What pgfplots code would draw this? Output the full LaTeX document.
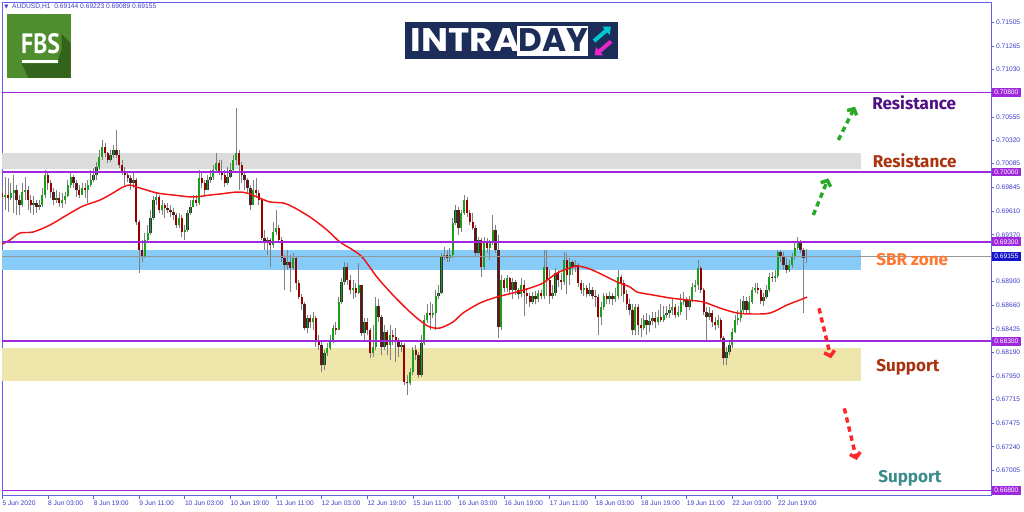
\documentclass[border=0pt]{standalone}
\usepackage{pgfplots}
\pgfplotsset{compat=1.18}
\usepackage{pgfplotstable}
\usepackage{fontspec}
\setmainfont{Liberation Sans}
\newfontfamily\fira{Fira Sans}
\newfontfamily\pop{Poppins}
\newfontfamily\pts{PT Sans}
\newfontfamily\dvs{DejaVu Sans}
\usetikzlibrary{arrows.meta}

\definecolor{framec}{RGB}{100,95,235}
\definecolor{ticktxt}{RGB}{60,60,200}
\definecolor{lvl}{RGB}{160,40,220}
\definecolor{bidc}{RGB}{20,20,200}
\definecolor{bull}{RGB}{25,160,25}
\definecolor{bear}{RGB}{150,0,0}
\definecolor{edge}{RGB}{50,50,50}
\definecolor{wick}{RGB}{128,128,128}
\definecolor{mac}{RGB}{240,20,20}
\definecolor{zgrey}{RGB}{220,220,220}
\definecolor{zblue}{RGB}{135,204,248}
\definecolor{zyel}{RGB}{238,230,170}
\definecolor{fbsg}{RGB}{78,142,46}
\definecolor{fbsd}{RGB}{52,100,28}
\definecolor{navy}{RGB}{28,45,90}
\definecolor{cyanarr}{RGB}{0,200,210}
\definecolor{magarr}{RGB}{230,40,200}
\definecolor{resA}{RGB}{80,15,130}
\definecolor{resB}{RGB}{170,50,15}
\definecolor{sbr}{RGB}{255,120,50}
\definecolor{teal2}{RGB}{60,140,140}
\definecolor{garr}{RGB}{40,170,40}
\definecolor{rarr}{RGB}{250,40,40}
\definecolor{bidline}{RGB}{150,150,150}

\pgfplotsset{
  candlebar/.style={only marks, mark=*, mark size=0pt, mark options={draw=none, fill=none}, forget plot},
}

\pgfplotstableread{
i o h l c
0 0.6979 0.6985 0.6972 0.6975
1 0.6975 0.6995 0.6962 0.6977
2 0.6977 0.6994 0.6960 0.6974
3 0.6974 0.6989 0.6972 0.6979
4 0.6979 0.6997 0.6959 0.6982
5 0.6982 0.6987 0.6957 0.6972
6 0.6972 0.6977 0.6957 0.6967
7 0.6967 0.6989 0.6965 0.6980
8 0.6980 0.6995 0.6972 0.6982
9 0.6982 0.6986 0.6962 0.6972
10 0.6972 0.6977 0.6959 0.6967
11 0.6967 0.6976 0.6957 0.6969
12 0.6969 0.6972 0.6959 0.6965
13 0.6965 0.6972 0.6962 0.6967
14 0.6967 0.6984 0.6965 0.6977
15 0.6977 0.7002 0.6974 0.6997
16 0.6997 0.7000 0.6982 0.6989
17 0.6989 0.6992 0.6974 0.6980
18 0.6980 0.6984 0.6967 0.6972
19 0.6972 0.6982 0.6969 0.6974
20 0.6974 0.6980 0.6965 0.6969
21 0.6969 0.6979 0.6964 0.6972
22 0.6972 0.6980 0.6968 0.6976
23 0.6976 0.6992 0.6975 0.6987
24 0.6987 0.7000 0.6984 0.6995
25 0.6995 0.6997 0.6984 0.6989
26 0.6989 0.6992 0.6975 0.6982
27 0.6982 0.6987 0.6974 0.6977
28 0.6977 0.6989 0.6977 0.6984
29 0.6984 0.6989 0.6974 0.6982
30 0.6982 0.6992 0.6969 0.6987
31 0.6987 0.7002 0.6985 0.6992
32 0.6992 0.7004 0.6990 0.6997
33 0.6997 0.7010 0.6992 0.7005
34 0.7005 0.7022 0.7002 0.7015
35 0.7015 0.7032 0.7012 0.7025
36 0.7025 0.7029 0.7015 0.7019
37 0.7019 0.7020 0.7009 0.7012
38 0.7012 0.7022 0.7010 0.7017
39 0.7017 0.7027 0.7014 0.7022
40 0.7022 0.7042 0.7014 0.7017
41 0.7017 0.7022 0.7004 0.7007
42 0.7007 0.7012 0.6997 0.7000
43 0.7000 0.7005 0.6987 0.6997
44 0.6997 0.7000 0.6990 0.6994
45 0.6994 0.6997 0.6982 0.6989
46 0.6989 0.7000 0.6984 0.6992
47 0.6992 0.6994 0.6947 0.6950
48 0.6950 0.6952 0.6899 0.6922
49 0.6922 0.6932 0.6910 0.6915
50 0.6915 0.6939 0.6914 0.6932
51 0.6932 0.6947 0.6929 0.6939
52 0.6939 0.6962 0.6937 0.6954
53 0.6954 0.6976 0.6952 0.6972
54 0.6972 0.6979 0.6967 0.6975
55 0.6975 0.6977 0.6959 0.6962
56 0.6962 0.6972 0.6957 0.6967
57 0.6967 0.6969 0.6954 0.6964
58 0.6964 0.6969 0.6959 0.6962
59 0.6962 0.6967 0.6955 0.6960
60 0.6960 0.6964 0.6952 0.6957
61 0.6957 0.6959 0.6944 0.6947
62 0.6947 0.6959 0.6944 0.6954
63 0.6954 0.6957 0.6935 0.6940
64 0.6940 0.6947 0.6932 0.6942
65 0.6942 0.6962 0.6940 0.6959
66 0.6959 0.6972 0.6957 0.6965
67 0.6965 0.6977 0.6965 0.6972
68 0.6972 0.6977 0.6966 0.6969
69 0.6969 0.7002 0.6967 0.6994
70 0.6994 0.7000 0.6984 0.6989
71 0.6989 0.6992 0.6977 0.6982
72 0.6982 0.6997 0.6982 0.6992
73 0.6992 0.7002 0.6989 0.6995
74 0.6995 0.7007 0.6992 0.7002
75 0.7002 0.7019 0.7000 0.7009
76 0.7009 0.7012 0.6997 0.7000
77 0.7000 0.7012 0.6992 0.6997
78 0.6997 0.7002 0.6985 0.6989
79 0.6989 0.7005 0.6987 0.6995
80 0.6995 0.7009 0.6994 0.7002
81 0.7002 0.7017 0.7000 0.7012
82 0.7012 0.7064 0.7007 0.7019
83 0.7019 0.7022 0.6982 0.7007
84 0.7007 0.7010 0.6989 0.6997
85 0.6997 0.7000 0.6982 0.6992
86 0.6992 0.6994 0.6980 0.6984
87 0.6984 0.6987 0.6962 0.6967
88 0.6967 0.6992 0.6967 0.6982
89 0.6982 0.6994 0.6975 0.6979
90 0.6979 0.6982 0.6967 0.6972
91 0.6972 0.6974 0.6932 0.6934
92 0.6934 0.6942 0.6922 0.6929
93 0.6929 0.6935 0.6917 0.6932
94 0.6932 0.6934 0.6905 0.6927
95 0.6927 0.6950 0.6924 0.6940
96 0.6940 0.6962 0.6937 0.6944
97 0.6944 0.6947 0.6929 0.6932
98 0.6932 0.6935 0.6910 0.6914
99 0.6914 0.6917 0.6882 0.6907
100 0.6907 0.6922 0.6902 0.6910
101 0.6910 0.6917 0.6880 0.6904
102 0.6904 0.6919 0.6902 0.6914
103 0.6914 0.6916 0.6882 0.6889
104 0.6889 0.6892 0.6872 0.6874
105 0.6874 0.6877 0.6861 0.6867
106 0.6867 0.6869 0.6841 0.6843
107 0.6843 0.6856 0.6838 0.6853
108 0.6853 0.6856 0.6843 0.6849
109 0.6849 0.6859 0.6841 0.6853
110 0.6853 0.6855 0.6824 0.6829
111 0.6829 0.6836 0.6821 0.6826
112 0.6826 0.6831 0.6799 0.6806
113 0.6806 0.6821 0.6801 0.6818
114 0.6818 0.6828 0.6815 0.6823
115 0.6823 0.6836 0.6821 0.6829
116 0.6829 0.6846 0.6828 0.6843
117 0.6843 0.6849 0.6836 0.6841
118 0.6841 0.6874 0.6841 0.6869
119 0.6869 0.6894 0.6867 0.6890
120 0.6890 0.6910 0.6887 0.6905
121 0.6905 0.6909 0.6887 0.6892
122 0.6892 0.6897 0.6877 0.6882
123 0.6882 0.6892 0.6872 0.6884
124 0.6884 0.6889 0.6874 0.6879
125 0.6879 0.6909 0.6877 0.6887
126 0.6887 0.6887 0.6835 0.6838
127 0.6838 0.6853 0.6831 0.6849
128 0.6849 0.6853 0.6836 0.6841
129 0.6841 0.6843 0.6813 0.6818
130 0.6818 0.6846 0.6814 0.6824
131 0.6824 0.6874 0.6821 0.6865
132 0.6865 0.6872 0.6849 0.6854
133 0.6854 0.6856 0.6816 0.6824
134 0.6824 0.6846 0.6821 0.6839
135 0.6839 0.6841 0.6816 0.6826
136 0.6826 0.6846 0.6811 0.6836
137 0.6836 0.6841 0.6826 0.6834
138 0.6834 0.6843 0.6809 0.6829
139 0.6829 0.6833 0.6814 0.6824
140 0.6824 0.6831 0.6819 0.6826
141 0.6826 0.6828 0.6786 0.6789
142 0.6789 0.6796 0.6776 0.6788
143 0.6788 0.6803 0.6786 0.6799
144 0.6799 0.6824 0.6796 0.6821
145 0.6821 0.6826 0.6811 0.6816
146 0.6816 0.6819 0.6793 0.6796
147 0.6796 0.6836 0.6794 0.6828
148 0.6828 0.6856 0.6826 0.6851
149 0.6851 0.6867 0.6848 0.6858
150 0.6858 0.6869 0.6841 0.6856
151 0.6856 0.6867 0.6853 0.6858
152 0.6858 0.6882 0.6841 0.6875
153 0.6875 0.6887 0.6872 0.6879
154 0.6879 0.6919 0.6877 0.6915
155 0.6915 0.6925 0.6912 0.6917
156 0.6917 0.6922 0.6910 0.6914
157 0.6914 0.6924 0.6910 0.6917
158 0.6917 0.6954 0.6914 0.6949
159 0.6949 0.6967 0.6947 0.6962
160 0.6962 0.6965 0.6937 0.6944
161 0.6944 0.6962 0.6940 0.6959
162 0.6959 0.6977 0.6957 0.6972
163 0.6972 0.6975 0.6955 0.6959
164 0.6959 0.6962 0.6947 0.6950
165 0.6950 0.6959 0.6942 0.6944
166 0.6944 0.6947 0.6915 0.6919
167 0.6919 0.6935 0.6917 0.6932
168 0.6932 0.6934 0.6895 0.6905
169 0.6905 0.6935 0.6902 0.6930
170 0.6930 0.6934 0.6919 0.6924
171 0.6924 0.6932 0.6912 0.6929
172 0.6929 0.6957 0.6927 0.6942
173 0.6942 0.6947 0.6919 0.6922
174 0.6922 0.6937 0.6833 0.6844
175 0.6844 0.6897 0.6841 0.6892
176 0.6892 0.6894 0.6880 0.6884
177 0.6884 0.6897 0.6880 0.6894
178 0.6894 0.6895 0.6879 0.6882
179 0.6882 0.6894 0.6872 0.6890
180 0.6890 0.6892 0.6876 0.6882
181 0.6882 0.6884 0.6872 0.6877
182 0.6877 0.6894 0.6874 0.6887
183 0.6887 0.6892 0.6855 0.6879
184 0.6879 0.6884 0.6867 0.6875
185 0.6875 0.6879 0.6864 0.6869
186 0.6869 0.6880 0.6867 0.6875
187 0.6875 0.6881 0.6867 0.6872
188 0.6872 0.6882 0.6869 0.6879
189 0.6879 0.6882 0.6872 0.6875
190 0.6875 0.6922 0.6872 0.6905
191 0.6905 0.6922 0.6875 0.6892
192 0.6892 0.6902 0.6867 0.6875
193 0.6875 0.6887 0.6872 0.6879
194 0.6879 0.6904 0.6875 0.6899
195 0.6899 0.6902 0.6885 0.6892
196 0.6892 0.6899 0.6882 0.6890
197 0.6890 0.6920 0.6887 0.6912
198 0.6912 0.6919 0.6877 0.6897
199 0.6897 0.6914 0.6887 0.6910
200 0.6910 0.6912 0.6897 0.6905
201 0.6905 0.6912 0.6900 0.6907
202 0.6907 0.6909 0.6885 0.6889
203 0.6889 0.6892 0.6877 0.6882
204 0.6882 0.6889 0.6875 0.6884
205 0.6884 0.6887 0.6874 0.6877
206 0.6877 0.6889 0.6875 0.6882
207 0.6882 0.6885 0.6872 0.6875
208 0.6875 0.6882 0.6864 0.6874
209 0.6874 0.6877 0.6836 0.6854
210 0.6854 0.6869 0.6846 0.6864
211 0.6864 0.6879 0.6861 0.6875
212 0.6875 0.6879 0.6867 0.6872
213 0.6872 0.6880 0.6867 0.6875
214 0.6875 0.6879 0.6866 0.6872
215 0.6872 0.6884 0.6869 0.6875
216 0.6875 0.6902 0.6872 0.6895
217 0.6895 0.6897 0.6875 0.6889
218 0.6889 0.6892 0.6869 0.6877
219 0.6877 0.6882 0.6861 0.6867
220 0.6867 0.6872 0.6856 0.6861
221 0.6861 0.6867 0.6836 0.6841
222 0.6841 0.6867 0.6836 0.6864
223 0.6864 0.6867 0.6836 0.6846
224 0.6846 0.6853 0.6834 0.6843
225 0.6843 0.6856 0.6841 0.6851
226 0.6851 0.6858 0.6836 0.6846
227 0.6846 0.6856 0.6839 0.6850
228 0.6850 0.6859 0.6846 0.6853
229 0.6853 0.6859 0.6843 0.6849
230 0.6849 0.6861 0.6846 0.6854
231 0.6854 0.6867 0.6849 0.6851
232 0.6851 0.6865 0.6849 0.6856
233 0.6856 0.6865 0.6853 0.6858
234 0.6858 0.6867 0.6853 0.6861
235 0.6861 0.6872 0.6856 0.6864
236 0.6864 0.6867 0.6853 0.6856
237 0.6856 0.6865 0.6854 0.6859
238 0.6859 0.6877 0.6856 0.6869
239 0.6869 0.6880 0.6866 0.6872
240 0.6872 0.6874 0.6851 0.6864
241 0.6864 0.6875 0.6861 0.6870
242 0.6870 0.6889 0.6869 0.6885
243 0.6885 0.6892 0.6880 0.6887
244 0.6887 0.6912 0.6882 0.6904
245 0.6904 0.6906 0.6879 0.6882
246 0.6882 0.6884 0.6856 0.6859
247 0.6859 0.6864 0.6829 0.6854
248 0.6854 0.6864 0.6851 0.6858
249 0.6858 0.6861 0.6844 0.6849
250 0.6849 0.6854 0.6841 0.6846
251 0.6846 0.6856 0.6843 0.6851
252 0.6851 0.6853 0.6829 0.6833
253 0.6833 0.6835 0.6806 0.6813
254 0.6813 0.6824 0.6806 0.6819
255 0.6819 0.6831 0.6816 0.6826
256 0.6826 0.6843 0.6823 0.6839
257 0.6839 0.6856 0.6838 0.6851
258 0.6851 0.6861 0.6846 0.6853
259 0.6853 0.6872 0.6849 0.6861
260 0.6861 0.6875 0.6858 0.6870
261 0.6870 0.6874 0.6858 0.6861
262 0.6861 0.6875 0.6858 0.6869
263 0.6869 0.6885 0.6867 0.6882
264 0.6882 0.6889 0.6879 0.6884
265 0.6884 0.6889 0.6877 0.6882
266 0.6882 0.6884 0.6867 0.6870
267 0.6870 0.6879 0.6865 0.6874
268 0.6874 0.6887 0.6872 0.6882
269 0.6882 0.6899 0.6880 0.6895
270 0.6895 0.6900 0.6890 0.6894
271 0.6894 0.6902 0.6890 0.6896
272 0.6896 0.6922 0.6894 0.6920
273 0.6920 0.6922 0.6910 0.6915
274 0.6915 0.6920 0.6902 0.6907
275 0.6907 0.6914 0.6899 0.6902
276 0.6902 0.6912 0.6900 0.6907
277 0.6907 0.6919 0.6904 0.6915
278 0.6915 0.6929 0.6912 0.6924
279 0.6924 0.6935 0.6922 0.6929
280 0.6929 0.6932 0.6919 0.6922
281 0.6922 0.6924 0.6858 0.6914
282 0.69144 0.69223 0.69089 0.69155
}\candles

\begin{document}
\begin{tikzpicture}
\path[use as bounding box] (0,0) rectangle (768pt,-383.25pt);
\begin{axis}[
  at={(1.5pt,-1.875pt)}, anchor=north west,
  scale only axis, width=741.75pt, height=369.75pt,
  xmin=-0.105, xmax=346.78, ymin=0.6674975, ymax=0.7170452,
  axis line style={draw=framec, line width=0.7pt},
  xtick={0,16,...,272},
  xticklabels={5 Jun 2020,8 Jun 03:00,8 Jun 19:00,9 Jun 11:00,10 Jun 03:00,10 Jun 19:00,11 Jun 11:00,12 Jun 03:00,12 Jun 19:00,15 Jun 11:00,16 Jun 03:00,16 Jun 19:00,17 Jun 11:00,18 Jun 03:00,18 Jun 19:00,19 Jun 11:00,22 Jun 03:00,22 Jun 19:00},
  ytick={0.67005,0.67240,0.67475,0.67715,0.67950,0.68190,0.68425,0.68660,0.68900,0.69370,0.69610,0.69845,0.70085,0.70320,0.70555,0.71030,0.71265,0.71505},
  yticklabels={0.67005,0.67240,0.67475,0.67715,0.67950,0.68190,0.68425,0.68660,0.68900,0.69370,0.69610,0.69845,0.70085,0.70320,0.70555,0.71030,0.71265,0.71505},
  xtick pos=bottom, ytick pos=right, yticklabel pos=right,
  tick align=outside, major tick length=2.6pt,
  tick style={draw=framec, line width=0.5pt},
  every tick label/.append style={font=\fontsize{5}{6}\selectfont, text=ticktxt},
  xticklabel style={anchor=north west, inner sep=0pt, yshift=-1pt},
  yticklabel style={anchor=west, inner sep=0pt, xshift=1pt},
  scaled y ticks=false,
]
% zones
\addplot[fill=zgrey, draw=none, forget plot] coordinates {(-1,0.70036) (301.1,0.70036) (301.1,0.70192) (-1,0.70192)} -- cycle;
\addplot[fill=zblue, draw=none, forget plot] coordinates {(-1,0.69016) (301.1,0.69016) (301.1,0.69217) (-1,0.69217)} -- cycle;
\addplot[fill=zyel, draw=none, forget plot] coordinates {(-1,0.67905) (301.1,0.67905) (301.1,0.68229) (-1,0.68229)} -- cycle;
% wicks
\addplot[candlebar,
  error bars/.cd, y dir=plus, y explicit, error mark=none,
  error bar style={color=wick, line width=0.65pt}]
  table[x=i, y=l, y error expr=\thisrow{h}-\thisrow{l}] {\candles};
% bull bodies
\addplot[candlebar,
  restrict expr to domain={\thisrow{c}-\thisrow{o}}{0:1},
  error bars/.cd, y dir=plus, y explicit, error mark=none,
  error bar style={color=edge, line width=1.75pt}]
  table[x=i, y=o, y error expr=\thisrow{c}-\thisrow{o}] {\candles};
\addplot[candlebar,
  restrict expr to domain={\thisrow{c}-\thisrow{o}}{0:1},
  error bars/.cd, y dir=plus, y explicit, error mark=none,
  error bar style={color=bull, line width=1.25pt}]
  table[x=i, y=o, y error expr=\thisrow{c}-\thisrow{o}] {\candles};
% bear bodies
\addplot[candlebar,
  restrict expr to domain={\thisrow{o}-\thisrow{c}}{0.000001:1},
  error bars/.cd, y dir=plus, y explicit, error mark=none,
  error bar style={color=edge, line width=1.75pt}]
  table[x=i, y=c, y error expr=\thisrow{o}-\thisrow{c}] {\candles};
\addplot[candlebar,
  restrict expr to domain={\thisrow{o}-\thisrow{c}}{0.000001:1},
  error bars/.cd, y dir=plus, y explicit, error mark=none,
  error bar style={color=bear, line width=1.25pt}]
  table[x=i, y=c, y error expr=\thisrow{o}-\thisrow{c}] {\candles};
% moving average
\addplot[mac, line width=1.1pt, smooth, forget plot] coordinates {
(0,0.69277) (2.7,0.69318) (6.2,0.69388) (10.8,0.69398) (16.7,0.69468) (22.7,0.69569)
(28.3,0.69659) (34.3,0.69720) (38.8,0.69790) (42.3,0.69850) (44.8,0.69870) (48.3,0.69840)
(54.3,0.69790) (59.9,0.69770) (66.9,0.69750) (72.9,0.69770) (76.4,0.69780) (82.3,0.69800)
(85.8,0.69790) (89.3,0.69750) (93.9,0.69700) (98.5,0.69690) (102,0.69649) (107.9,0.69549)
(113.9,0.69418) (118.4,0.69298) (123,0.69217) (126.5,0.69137) (131.4,0.68946) (137,0.68765)
(143,0.68594) (147.6,0.68484) (150,0.68443) (153.5,0.68433) (158.1,0.68494) (161.6,0.68584)
(167.6,0.68685) (173.5,0.68745) (179.1,0.68785) (185.1,0.68835) (189.6,0.68885) (194.6,0.68986)
(199.1,0.69036) (201.9,0.69056) (206.1,0.69026) (210.7,0.68966) (215.6,0.68896) (220.2,0.68845)
(222.6,0.68795) (228.2,0.68765) (234.2,0.68735) (240.2,0.68715) (245.8,0.68695) (251.7,0.68634)
(257.7,0.68584) (263.3,0.68574) (269.3,0.68584) (275.2,0.68664) (279.8,0.68715) (282.3,0.68745)};
% level lines
\addplot[lvl, line width=1.4pt, forget plot] coordinates {(-1,0.70800) (350,0.70800)};
\addplot[lvl, line width=1.4pt, forget plot] coordinates {(-1,0.70000) (350,0.70000)};
\addplot[lvl, line width=1.4pt, forget plot] coordinates {(-1,0.69300) (350,0.69300)};
\addplot[lvl, line width=1.4pt, forget plot] coordinates {(-1,0.68300) (350,0.68300)};
\addplot[lvl, line width=1.4pt, forget plot] coordinates {(-1,0.66800) (350,0.66800)};
\addplot[bidline, line width=0.5pt, forget plot] coordinates {(-1,0.69155) (350,0.69155)};
\end{axis}

\begin{scope}[x=0.75pt,y=-0.75pt]
% header
\node[anchor=west, inner sep=0pt, text=ticktxt, font=\fontsize{5}{6}\selectfont] at (4,7)
  {{\dvs\fontsize{4}{5}\selectfont ▼}\ \ AUDUSD,H1\ \ 0.69144 0.69223 0.69089 0.69155};
% FBS logo
\fill[fbsg] (7.3,14.3) rectangle (70.7,77.7);
\begin{scope}
\clip (7.3,14.3) rectangle (70.7,77.7);
\fill[fbsd] (21.7,63.3) -- (58.3,63.3) -- (58.3,58) -- (61.5,50) -- (61.5,34) -- (90,62) -- (90,95) -- (36,95) -- cycle;
\end{scope}
\node[anchor=base west, inner sep=0pt, text=white, font=\pts\bfseries\fontsize{21}{21}\selectfont, xscale=0.85] at (21,53) {FBS};
\fill[white] (21.7,60) rectangle (58.3,63.3);
% INTRADAY logo
\fill[navy] (405,21.7) rectangle (618.3,59);
\fill[white] (516.7,25.7) rectangle (588.3,55.7);
\node[anchor=base west, inner sep=0pt, text=white, font=\pop\bfseries\fontsize{24.5}{24.5}\selectfont, xscale=1.1] at (410.5,51.7) {INTRA};
\node[anchor=base west, inner sep=0pt, text=navy, font=\pop\bfseries\fontsize{24.5}{24.5}\selectfont] at (518.5,51.7) {DAY};
\draw[cyanarr, line width=3pt, -{Triangle[length=5pt,width=8pt]}] (594,41) -- (611,26.5);
\draw[magarr, line width=3pt, -{Triangle[length=5pt,width=8pt]}] (611,41.5) -- (594.5,55.5);
% price boxes
\foreach \Y/\t in {92.5/0.70800, 172.1/0.70000, 241.75/0.69300, 341.25/0.68300, 490.5/0.66800} {
  \fill[lvl] (992,\Y-4.3) rectangle (1021,\Y+4.3);
  \node[anchor=west, inner sep=0pt, text=white, font=\fontsize{5}{6}\selectfont] at (994,\Y) {\t};
}
\fill[bidc] (992,256.2-4.3) rectangle (1021,256.2+4.3);
\node[anchor=west, inner sep=0pt, text=white, font=\fontsize{5}{6}\selectfont] at (994,256.2) {0.69155};
% labels
\node[anchor=base west, inner sep=0pt, text=resA, font=\fira\bfseries\fontsize{12.8}{13}\selectfont] at (872,109.3) {Resistance};
\node[anchor=base west, inner sep=0pt, text=resB, font=\fira\bfseries\fontsize{12.8}{13}\selectfont] at (872.5,167.7) {Resistance};
\node[anchor=base west, inner sep=0pt, text=sbr, font=\fira\bfseries\fontsize{12.8}{13}\selectfont] at (876,265) {SBR zone};
\node[anchor=base west, inner sep=0pt, text=resB, font=\fira\bfseries\fontsize{12.8}{13}\selectfont] at (876,371) {Support};
\node[anchor=base west, inner sep=0pt, text=teal2, font=\fira\bfseries\fontsize{12.8}{13}\selectfont] at (878,482.7) {Support};
% arrows
\draw[garr, line width=2.6pt, dash pattern=on 4pt off 3pt, -{Straight Barb[length=3.5pt,width=8pt]}] (813.3,215) -- (828.3,178.3);
\draw[garr, line width=2.6pt, dash pattern=on 4pt off 3pt, -{Straight Barb[length=3.5pt,width=8pt]}] (838.3,140) -- (855,106.7);
\draw[rarr, line width=2.6pt, dash pattern=on 4pt off 3pt, -{Straight Barb[length=3.5pt,width=8pt]}] (819,308.3) -- (831,358.3);
\draw[rarr, line width=2.6pt, dash pattern=on 4pt off 3pt, -{Straight Barb[length=3.5pt,width=8pt]}] (844.3,408.3) -- (856.7,460);
\end{scope}
\end{tikzpicture}
\end{document}
